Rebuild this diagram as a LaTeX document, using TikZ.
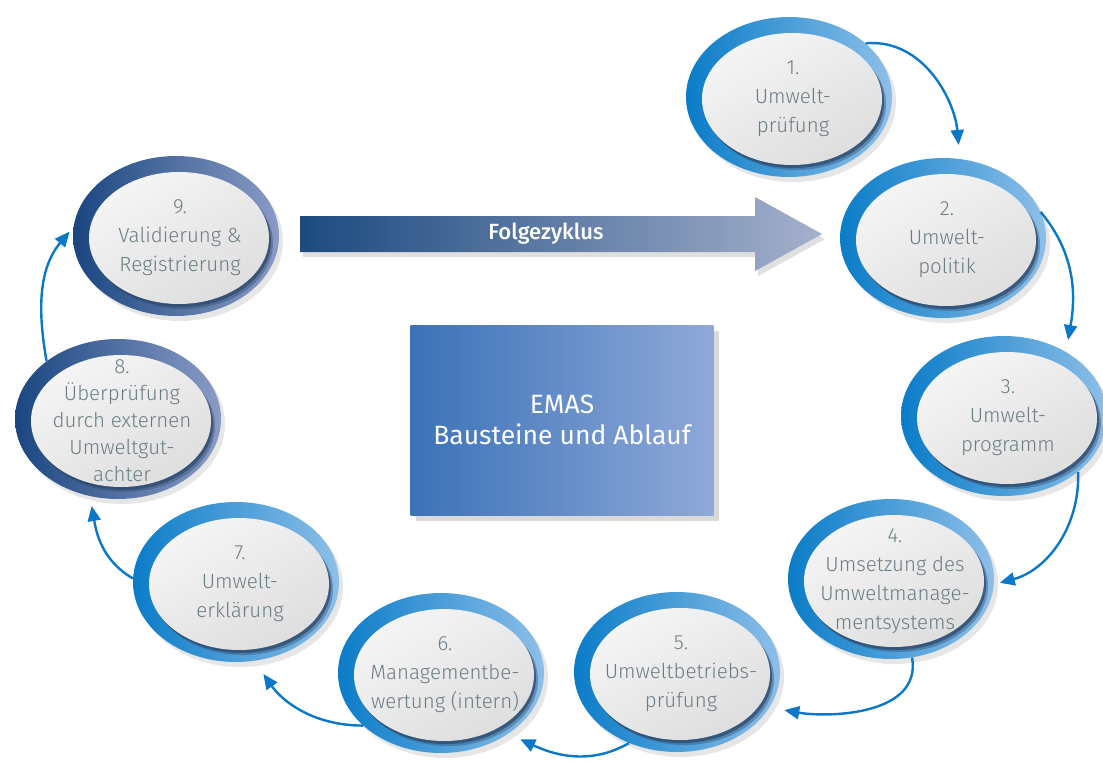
\documentclass[tikz,border=0pt]{standalone}
\usepackage{fontspec}
\setmainfont{Fira Sans}
\newfontfamily\duenn{Fira Sans Light}
\newfontfamily\mittel{Fira Sans Medium}
\usetikzlibrary{shapes.geometric,shadows,arrows.meta}
\definecolor{ringdunkel}{HTML}{0A7CC8}
\definecolor{ringhell}{HTML}{8DBFE8}
\definecolor{navydunkel}{HTML}{1A4680}
\definecolor{navyhell}{HTML}{8A9BC5}
\definecolor{schatten}{HTML}{2E4A6C}
\definecolor{schrift}{HTML}{6B7E86}
\definecolor{pfeil}{HTML}{0A78C6}
\definecolor{boxlinks}{HTML}{3B72B8}
\definecolor{boxrechts}{HTML}{8FA9D8}
\definecolor{fzlinks}{HTML}{1C4A80}
\definecolor{fzrechts}{HTML}{A5B0CC}
\begin{document}
\begin{tikzpicture}
[x=1pt,y=1pt,
ring/.style={ellipse,minimum width=206pt,minimum height=160pt,inner sep=0pt,
  left color=ringdunkel,right color=ringhell,
  drop shadow={shadow xshift=4pt,shadow yshift=-5pt,opacity=.2},
  path picture={
    \fill[schatten,opacity=.4] ([xshift=7pt,yshift=-7pt]path picture bounding box.center) ellipse [x radius=90pt,y radius=66pt];
    \fill[schatten,opacity=.75] ([xshift=5pt,yshift=-5pt]path picture bounding box.center) ellipse [x radius=90pt,y radius=66pt];
    \shade[top color=white!96!black,bottom color=black!13,shading angle=30] ([xshift=3pt,yshift=-2pt]path picture bounding box.center) ellipse [x radius=90pt,y radius=66pt];}},
ringnavy/.style={ring,left color=navydunkel,right color=navyhell},
etikett/.style={align=center,text=schrift,font=\duenn\fontsize{20.5}{29}\selectfont,xshift=4pt,yshift=-2pt},
verbinder/.style={draw=pfeil,line width=2.4pt,-{Triangle[length=15pt,width=13pt]}}]
\useasboundingbox (0,0) rectangle (1103,-763);

% Folgezyklus
\shade[left color=fzlinks,right color=fzrechts,drop shadow={shadow xshift=3pt,shadow yshift=-5pt,opacity=.25}]
  (300,-216) -- (755,-216) -- (755,-197) -- (822,-234) -- (755,-271) -- (755,-252) -- (300,-252) -- cycle;
\node[text=white,font=\mittel\fontsize{22}{26}\selectfont] (folge) at (546,-234) {Folgezyklus};

\node[minimum width=303pt,minimum height=190pt,left color=boxlinks,right color=boxrechts,
  drop shadow={shadow xshift=5pt,shadow yshift=-6pt,opacity=.3},
  text=white,align=center,font=\fontsize{26.5}{31}\selectfont] (emas) at (562,-420) {EMAS\\Bausteine und Ablauf};

\node[ring] (ring1) at (789,-97) {};
\node[etikett] (text1) at (ring1) {1.\\Umwelt-\\prüfung};
\node[ring] (ring2) at (943,-238) {};
\node[etikett] (text2) at (ring2) {2.\\Umwelt-\\politik};
\node[ring] (ring3) at (1004,-416) {};
\node[etikett] (text3) at (ring3) {3.\\Umwelt-\\programm};
\node[ring] (ring4) at (891,-579) {};
\node[etikett] (text4) at (ring4) {4.\\Umsetzung des\\Umweltmanage-\\mentsystems};
\node[ring] (ring5) at (677,-672) {};
\node[etikett] (text5) at (ring5) {5.\\Umweltbetriebs-\\prüfung};
\node[ring] (ring6) at (441,-673) {};
\node[etikett] (text6) at (ring6) {6.\\Managementbe-\\wertung (intern)};
\node[ring] (ring7) at (236,-582) {};
\node[etikett] (text7) at (ring7) {7.\\Umwelt-\\erklärung};
\node[ringnavy] (ring8) at (118,-419) {};
\node[etikett,font=\duenn\fontsize{20.5}{27}\selectfont] (text8) at (ring8) {8.\\Überprüfung\\durch externen\\Umweltgut-\\achter};
\node[ringnavy] (ring9) at (176,-236) {};
\node[etikett] (text9) at (ring9) {9.\\Validierung \&\\Registrierung};

\draw[verbinder,shorten >=14pt] (ring1.35) to[out=5,in=95] (ring2.78);
\draw[verbinder,shorten >=12pt] (ring2.15) to[out=-50,in=80] (ring3.46);
\draw[verbinder,shorten >=6pt] (ring3.-37) to[out=-88,in=15] (ring4.-3);
\draw[verbinder,shorten >=15pt] (ring4.-75) to[out=-80,in=-10] (ring5.-21);
\draw[verbinder,shorten >=13pt] (ring5.-124) to[out=-150,in=-25] (ring6.-42);
\draw[verbinder,shorten >=16pt] (ring6.-146) to[out=180,in=-55] (ring7.-77);
\draw[verbinder,shorten >=10pt] (ring7.178) to[out=150,in=-80] (ring8.-110);
\draw[verbinder,shorten >=6pt] (ring8.141) to[out=100,in=-130] (ring9.175);
\end{tikzpicture}
\end{document}
